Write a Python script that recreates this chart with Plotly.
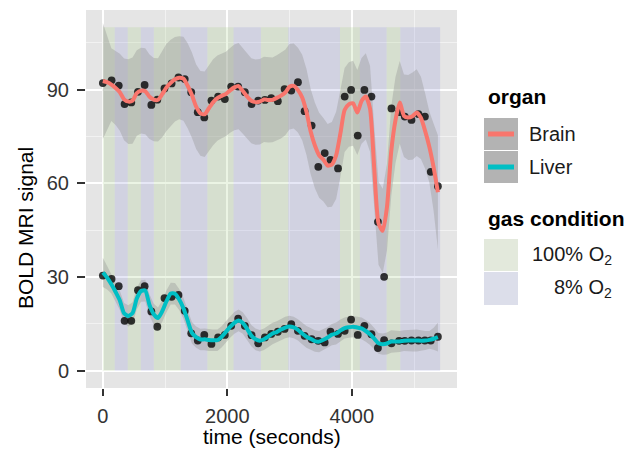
import numpy as np
import plotly.graph_objects as go

# ---------------- data ----------------
time_s = [0, 140, 255, 349, 457, 564, 671, 779, 875, 990,
          1105, 1215, 1316, 1420, 1525, 1630, 1745, 1852, 1960, 2062,
          2174, 2282, 2390, 2496, 2604, 2706, 2812, 2920, 3028, 3135,
          3242, 3355, 3462, 3565, 3658, 3779, 3886, 3989, 4096, 4203,
          4316, 4420, 4520, 4638, 4760, 4852, 4960, 5072, 5175, 5270, 5384]

brain = [92.1, 93.0, 91.3, 85.4, 85.9, 89.3, 91.5, 85.1, 86.8, 90.4,
         92.0, 93.9, 93.4, 89.2, 82.8, 81.1, 86.5, 87.8, 87.0, 91.0,
         91.0, 89.2, 85.4, 86.5, 86.7, 87.3, 86.3, 90.2, 89.7, 92.4,
         83.1, 78.5, 65.3, 69.7, 67.5, 64.8, 87.8, 89.9, 75.3, 89.9,
         87.8, 47.7, 30.1, 84.0, 82.8, 81.4, 80.3, 82.2, 81.4, 63.7, 59.1]

liver = [30.5, 29.4, 27.1, 16.0, 16.0, 25.8, 27.1, 19.0, 14.1, 23.3,
         23.7, 24.3, 19.2, 12.0, 9.7, 11.5, 8.6, 10.7, 11.5, 14.4,
         16.7, 14.4, 11.4, 8.8, 10.7, 11.8, 12.5, 13.4, 14.9, 12.8,
         11.2, 10.1, 9.6, 9.1, 12.5, 11.8, 12.8, 16.4, 11.5, 14.4,
         11.7, 7.3, 9.8, 8.8, 9.6, 9.6, 9.7, 9.7, 9.7, 9.7, 10.9]

band_start = [0, 190, 400, 610, 820, 1250, 1680, 2100, 2540, 2980, 3810, 4130, 4560, 4780]
band_end = [190, 400, 610, 820, 1250, 1680, 2100, 2540, 2980, 3810, 4130, 4560, 4780, 5420]
band_gas = ["100", "8", "100", "8", "100", "8", "100", "8", "100", "8", "100", "8", "100", "8"]
band_low, band_high = 0, 110

organs = ["Brain", "Liver"]
organ_colors = {"Brain": "#F8766D", "Liver": "#00BFC4"}
gas_fill = {"100": "rgba(164,204,134,0.22)", "8": "rgba(139,144,214,0.22)"}
# widening of the confidence ribbon so it matches the band drawn in the reference
ribbon_scale = {"Brain": 1.7, "Liver": 1.3}

x_ticks = [0, 2000, 4000]
y_ticks = [0, 30, 60, 90]


# ---------------- loess smoother (degree 2, tricube) ----------------
def loess(x, y, xg, span=0.15):
    x = np.asarray(x, float) / 1000.0
    y = np.asarray(y, float)
    xg = np.asarray(xg, float) / 1000.0
    n = len(x)
    q = int(np.floor(n * span))

    def row(x0):
        d = np.abs(x - x0)
        h = np.sort(d)[q - 1] * 1.0000001
        u = np.clip(d / h, 0, 1)
        w = (1 - u ** 3) ** 3
        X = np.vstack([np.ones(n), x - x0, (x - x0) ** 2]).T
        XtW = X.T * w
        A = XtW @ X
        op = np.linalg.solve(A, XtW)
        return op[0]

    L = np.array([row(v) for v in x])
    IL = np.eye(n) - L
    M = IL.T @ IL
    d1 = np.trace(M)
    d2 = np.trace(M @ M)
    res = y - L @ y
    s = np.sqrt(np.sum(res ** 2) / d1)
    df = d1 ** 2 / d2
    Lg = np.array([row(v) for v in xg])
    fit = Lg @ y
    # standard error evaluated at the observed x and interpolated onto the grid
    se_obs = s * np.sqrt(np.sum(L ** 2, axis=1))
    se = np.interp(xg, x, se_obs)
    z = 1.959964
    tq = z + (z ** 3 + z) / (4 * df) + (5 * z ** 5 + 16 * z ** 3 + 3 * z) / (96 * df ** 2)
    return fit, tq * se


fig = go.Figure()

# gas-condition bands (data coordinates)
for s0, s1, g in zip(band_start, band_end, band_gas):
    fig.add_shape(type="rect", xref="x", yref="y", x0=s0, x1=s1, y0=band_low, y1=band_high,
                  fillcolor=gas_fill[g], line=dict(width=0), layer="between")

series = {"Brain": brain, "Liver": liver}
xg = np.linspace(min(time_s), max(time_s), 80)
smooths = {}
for org in organs:
    fit, half = loess(time_s, series[org], xg)
    half = half * ribbon_scale[org]
    lo, hi = fit - half, fit + half
    smooths[org] = fit
    fig.add_trace(go.Scatter(x=np.concatenate([xg, xg[::-1]]), y=np.concatenate([hi, lo[::-1]]),
                             fill="toself", fillcolor="rgba(153,153,153,0.4)", line=dict(width=0),
                             mode="lines", hoverinfo="skip", showlegend=False))

for org in organs:
    fig.add_trace(go.Scatter(x=time_s, y=series[org], mode="markers",
                             marker=dict(size=7.8, color="rgba(0,0,0,0.78)", line=dict(width=0)),
                             showlegend=False))

for org in organs:
    fig.add_trace(go.Scatter(x=xg, y=smooths[org], mode="lines",
                             line=dict(color=organ_colors[org], width=4, shape="spline", smoothing=0.6),
                             showlegend=False))

# ---------------- layout ----------------
# the page body adds an 8px offset; the figure is sized so the panel lands where the reference has it
OFF = 8
W, H = 630, 442
L_, R_, T_, B_ = 78, 181, 2, 62
pw, ph = W - L_ - R_, H - T_ - B_


def px(xp):  # reference-image x pixel -> paper coordinate
    return (xp - OFF - L_) / pw


def py(yp):  # reference-image y pixel -> paper coordinate
    return (H - B_ - (yp - OFF)) / ph


FONT = "Liberation Sans, Arial, Helvetica, sans-serif"

fig.update_layout(
    width=W, height=H,
    margin=dict(l=L_, r=R_, t=T_, b=B_, pad=0),
    paper_bgcolor="white", plot_bgcolor="#e5e5e5",
    font=dict(family=FONT, size=20, color="#333333"),
    showlegend=False,
)
fig.update_xaxes(range=[-271, 5691], tickvals=x_ticks, ticktext=[str(v) for v in x_ticks],
                 showgrid=True, gridcolor="white", gridwidth=1.6, zeroline=False,
                 ticks="outside", ticklen=7, tickwidth=2, tickcolor="#333333",
                 tickfont=dict(size=20, color="#333333"), showline=False, ticklabelstandoff=3,
                 minor=dict(tickvals=[1000, 3000, 5000], showgrid=True, gridcolor="#f2f2f2",
                            gridwidth=0.8, ticks=""))
fig.update_yaxes(range=[-5.5, 115.5], tickvals=y_ticks, ticktext=[str(v) for v in y_ticks],
                 showgrid=True, gridcolor="white", gridwidth=1.6, zeroline=False,
                 ticks="outside", ticklen=8, tickwidth=2, tickcolor="#333333",
                 tickfont=dict(size=20, color="#333333"), showline=False, ticklabelstandoff=4,
                 minor=dict(tickvals=[15, 45, 75, 105], showgrid=True, gridcolor="#f2f2f2",
                            gridwidth=0.8, ticks=""))

ann = []
# axis titles
ann.append(dict(x=px(272), y=py(436), xref="paper", yref="paper", text="time (seconds)",
                showarrow=False, xanchor="center", yanchor="middle",
                font=dict(size=21, color="black", family=FONT)))
ann.append(dict(x=px(25), y=py(228), xref="paper", yref="paper", text="BOLD MRI signal",
                showarrow=False, xanchor="center", yanchor="middle", textangle=-90,
                font=dict(size=21, color="black", family=FONT)))

# legend: organ
ann.append(dict(x=px(486), y=py(97), xref="paper", yref="paper", text="<b>organ</b>",
                showarrow=False, xanchor="left", yanchor="middle",
                font=dict(size=21, color="black", family=FONT)))
key_x0, key_x1 = 484, 518
organ_keys = [(118, 150), (151, 183)]
shapes = []
for org, (y0, y1) in zip(organs, organ_keys):
    shapes.append(dict(type="rect", xref="paper", yref="paper", x0=px(key_x0), x1=px(key_x1),
                       y0=py(y1), y1=py(y0), fillcolor="#b3b3b3", line=dict(width=0), layer="above"))
    yc = (y0 + y1) / 2
    shapes.append(dict(type="line", xref="paper", yref="paper", x0=px(488), x1=px(514),
                       y0=py(yc), y1=py(yc), line=dict(color=organ_colors[org], width=5), layer="above"))
    ann.append(dict(x=px(527), y=py(yc), xref="paper", yref="paper", text=org,
                    showarrow=False, xanchor="left", yanchor="middle",
                    font=dict(size=20, color="#1a1a1a", family=FONT)))

# legend: gas condition
ann.append(dict(x=px(486), y=py(218), xref="paper", yref="paper", text="<b>gas condition</b>",
                showarrow=False, xanchor="left", yanchor="middle",
                font=dict(size=21, color="black", family=FONT)))
gas_keys = [("100", 239, 271, "#e3e9dc"), ("8", 272, 305, "#dcdeea")]
for g, y0, y1, col in gas_keys:
    shapes.append(dict(type="rect", xref="paper", yref="paper", x0=px(key_x0), x1=px(key_x1),
                       y0=py(y1), y1=py(y0), fillcolor=col, line=dict(width=0), layer="above"))
    yc = (y0 + y1) / 2
    ann.append(dict(x=px(614), y=py(yc), xref="paper", yref="paper",
                    text=g + "% O<sub>2</sub>",
                    showarrow=False, xanchor="right", yanchor="middle",
                    font=dict(size=20, color="#1a1a1a", family=FONT)))

fig.update_layout(annotations=ann)
for s in shapes:
    fig.add_shape(**s)

fig.write_html("out.html")
